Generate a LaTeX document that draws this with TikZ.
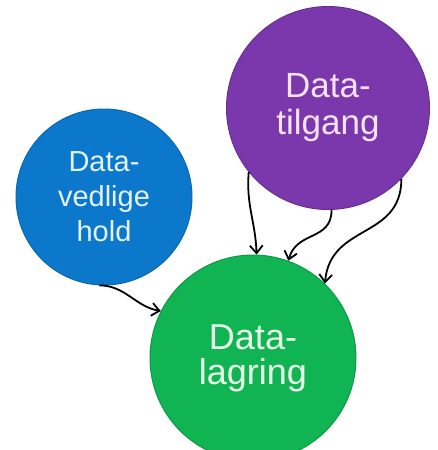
\documentclass[tikz,border=0pt]{standalone}
\usepackage{fontspec}
\setmainfont{Liberation Sans}
\usepackage{tikz}
\usetikzlibrary{arrows.meta, positioning}
\definecolor{HoldBlue}{RGB}{12, 120, 204}
\definecolor{AccessPurple}{RGB}{122, 56, 172}
\definecolor{StoreGreen}{RGB}{16, 180, 82}
\definecolor{HoldText}{RGB}{228, 242, 255}
\definecolor{AccessText}{RGB}{246, 226, 246}
\definecolor{StoreText}{RGB}{232, 250, 232}
\tikzset{
  bubble/.style={circle, inner sep=0pt, align=center, line width=1pt},
  flow/.style={-{Straight Barb[angle=80:10pt]}, line width=1.8pt, black}
}

\begin{document}
\begin{tikzpicture}[x=1pt, y=1pt]
  \useasboundingbox (0,0) rectangle (437,-450);
  % the three bubbles
  \node[bubble, fill=HoldBlue, draw=HoldBlue!85!black, minimum size=176pt,
        text=HoldText, font=\fontsize{29}{35}\selectfont] (vedligehold) at (104,-197)
        {Data-\\vedlige\\hold};
  \node[bubble, fill=AccessPurple, draw=AccessPurple!85!black, minimum size=203pt,
        text=AccessText, font=\fontsize{35}{37}\selectfont] (tilgang) at (328,-108)
        {Data-\\tilgang};
  \node[bubble, fill=StoreGreen, draw=StoreGreen!85!black, minimum size=206pt,
        text=StoreText, font=\fontsize{36}{35}\selectfont] (lagring) at (253,-358)
        {Data-\\lagring};
  % connectors
  \draw[flow] (vedligehold.-93) to[out=0, in=170] (lagring.153);
  \draw[flow] (tilgang.219) to[out=-95, in=92] (lagring.88);
  \draw[flow] (tilgang.-88) to[out=-90, in=75, looseness=1.2] (lagring.70);
  \draw[flow] (tilgang.-44) to[out=-90, in=85, looseness=1.2] (lagring.46);
\end{tikzpicture}
\end{document}
